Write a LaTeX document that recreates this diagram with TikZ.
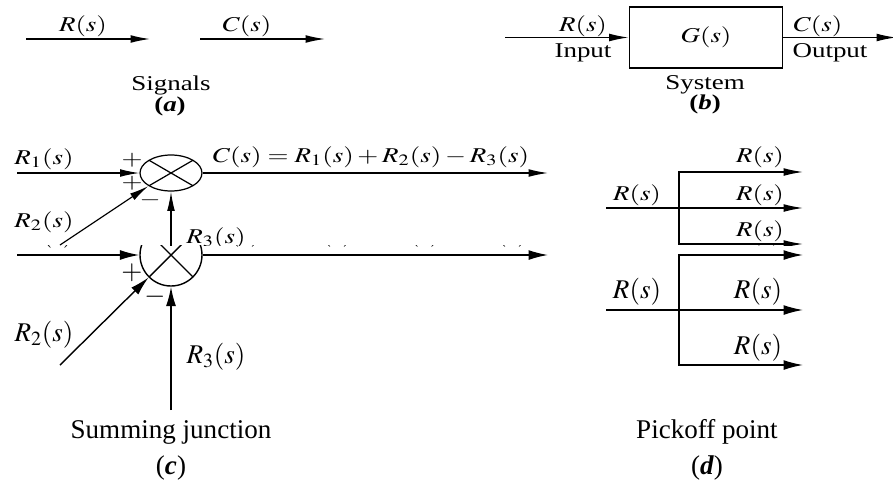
\documentclass[tikz,border=0pt]{standalone}
\usepackage{mathptmx}
\usepackage{fontspec}
\setmainfont{Liberation Serif}
\usepackage{graphicx}
\usetikzlibrary{arrows.meta,shapes.geometric}

% lettering of the reduced (wide) drawings and of the full size ones
\newcommand{\wlab}[1]{\scalebox{1.28}[1]{\fontsize{12}{14}\selectfont #1}}
\newcommand{\bigfnt}{\fontsize{15.4}{18}\selectfont}

\begin{document}
\begin{tikzpicture}[x=0.02cm,y=-0.02cm,line width=0.7pt]
		\tikzstyle{sig}=[-{Latex[length=11pt,width=4.4pt]}]
		\tikzstyle{sigB}=[line width=0.8pt,-{Latex[length=11pt,width=5.6pt]}]
		\tikzstyle{lbl}=[inner sep=0pt]
		\tikzstyle{lblB}=[inner sep=0pt,font=\bigfnt]
		\tikzstyle{junction}=[draw,inner sep=0pt,path picture={
			\draw (path picture bounding box.north west) -- (path picture bounding box.south east)
			      (path picture bounding box.south west) -- (path picture bounding box.north east);}]
		\useasboundingbox (0,0) rectangle (893,484);

		% Signals
		\coordinate (ra) at (26,39);
		\coordinate (rb) at (150,39);
		\coordinate (ca) at (200,39);
		\coordinate (cb) at (325,39);
		\draw[sig] (ra) -- (rb);
		\draw[sig] (ca) -- (cb);
		\node[lbl] (rla) at (83,26) {\wlab{$R(s)$}};
		\node[lbl] (cla) at (247,26) {\wlab{$C(s)$}};
		\node[lbl] (capa) at (171,85) {\wlab{Signals}};
		\node[lbl] (taga) at (170,106) {\wlab{\textbf{(\textit{a})}}};

		% System
		\node[draw,line width=1.1pt,minimum width=3.06cm,minimum height=1.22cm] (sys) at (706,37.5) {\wlab{$G(s)$}};
		\coordinate (inb) at (505,37.5);
		\coordinate (outb) at (896,37.5);
		\draw[sig] (inb) -- (sys.west);
		\draw[sig] (sys.east) -- (outb);
		\node[lbl] (rlb) at (583,26) {\wlab{$R(s)$}};
		\node[lbl] (inlb) at (583,53) {\wlab{Input}};
		\node[lbl] (clb) at (818,26) {\wlab{$C(s)$}};
		\node[lbl] (outlb) at (830,53) {\wlab{Output}};
		\node[lbl] (capb) at (705,85) {\wlab{System}};
		\node[lbl] (tagb) at (705,104) {\wlab{\textbf{(\textit{b})}}};

		% Summing junction, full size
		\node[junction,circle,minimum size=1.24cm,line width=0.8pt] (sjB) at (171,255) {};
		\coordinate (r1B) at (17,255);
		\coordinate (r2B) at (60,365);
		\coordinate (r3B) at (171,410);
		\coordinate (cB) at (548,255);
		\draw[sigB] (r1B) -- (sjB.west);
		\draw[sigB] (r2B) -- (sjB.225);
		\draw[sigB] (r3B) -- (sjB.south);
		\draw[sigB] (sjB.east) -- (cB);
		\node[lblB] (r1lB) at (44,235) {$R_1(s)$};
		\node[lblB] (clB) at (370,234) {$C(s) = R_1(s) + R_2(s) - R_3(s)$};
		\node[lblB] (p1B) at (132,236) {$+$};
		\node[lblB] (p2B) at (132,273) {$+$};
		\node[lblB] (mB) at (155,297) {$-$};
		\node[lblB] (r2lB) at (44,335) {$R_2(s)$};
		\node[lblB] (r3lB) at (216,357) {$R_3(s)$};
		\node[lblB] (capc) at (171,432) {Summing junction};
		\node[lblB] (tagc) at (171,468) {(\textbf{\textit{c}})};

		% Pickoff point, full size
		\coordinate (inB) at (606,310);
		\coordinate (pkB) at (679,310);
		\coordinate (o1B) at (803,255);
		\coordinate (o2B) at (803,310);
		\coordinate (o3B) at (803,365);
		\draw[line width=0.8pt] (inB) -- (pkB);
		\draw[sigB] (pkB) -- (o2B);
		\draw[sigB] (pkB) |- (o1B);
		\draw[sigB] (pkB) |- (o3B);
		\node[lblB] (rinB) at (637,292) {$R(s)$};
		\node[lblB] (r1oB) at (758,233) {$R(s)$};
		\node[lblB] (r2oB) at (758,292) {$R(s)$};
		\node[lblB] (r3oB) at (758,348) {$R(s)$};
		\node[lblB] (capd) at (707,432) {Pickoff point};
		\node[lblB] (tagd) at (707,468) {(\textbf{\textit{d}})};

		% reduced copies laid over the top of the full size ones
		\fill[white] (0,130) rectangle (893,245);
		\begin{scope}
			\clip (0,0) rectangle (893,245);
			% Summing junction
			\node[junction,ellipse,minimum width=1.24cm,minimum height=0.72cm] (sjA) at (171,173) {};
			\coordinate (r1A) at (17,173);
			\coordinate (r2A) at (60,245);
			\coordinate (r3A) at (171,250);
			\coordinate (cA) at (548,173);
			\draw[sig] (r1A) -- (sjA.west);
			\draw[sig] (r2A) -- (sjA.210);
			\draw[sig] (r3A) -- (sjA.south);
			\draw[sig] (sjA.east) -- (cA);
			\node[lbl] (r1lA) at (44,159) {\wlab{$R_1(s)$}};
			\node[lbl] (clA) at (371,157) {\wlab{$C(s) = R_1(s) + R_2(s) - R_3(s)$}};
			\node[lbl] (p1A) at (132,160) {\wlab{$+$}};
			\node[lbl] (p2A) at (132,183) {\wlab{$+$}};
			\node[lbl] (mA) at (150,200) {\wlab{$-$}};
			\node[lbl] (r2lA) at (44,222) {\wlab{$R_2(s)$}};
			\node[lbl] (r3lA) at (216,238) {\wlab{$R_3(s)$}};

			% Pickoff point
			\coordinate (inA) at (606,208);
			\coordinate (pkA) at (679,208);
			\coordinate (o1A) at (803,172);
			\coordinate (o2A) at (803,208);
			\coordinate (o3A) at (803,244);
			\draw (inA) -- (pkA);
			\draw[sig] (pkA) -- (o2A);
			\draw[sig] (pkA) |- (o1A);
			\draw[sig] (pkA) |- (o3A);
			\node[lbl] (rinA) at (637,195) {\wlab{$R(s)$}};
			\node[lbl] (r1oA) at (760,157) {\wlab{$R(s)$}};
			\node[lbl] (r2oA) at (760,195) {\wlab{$R(s)$}};
			\node[lbl] (r3oA) at (760,231) {\wlab{$R(s)$}};
		\end{scope}
	\end{tikzpicture}
\end{document}
